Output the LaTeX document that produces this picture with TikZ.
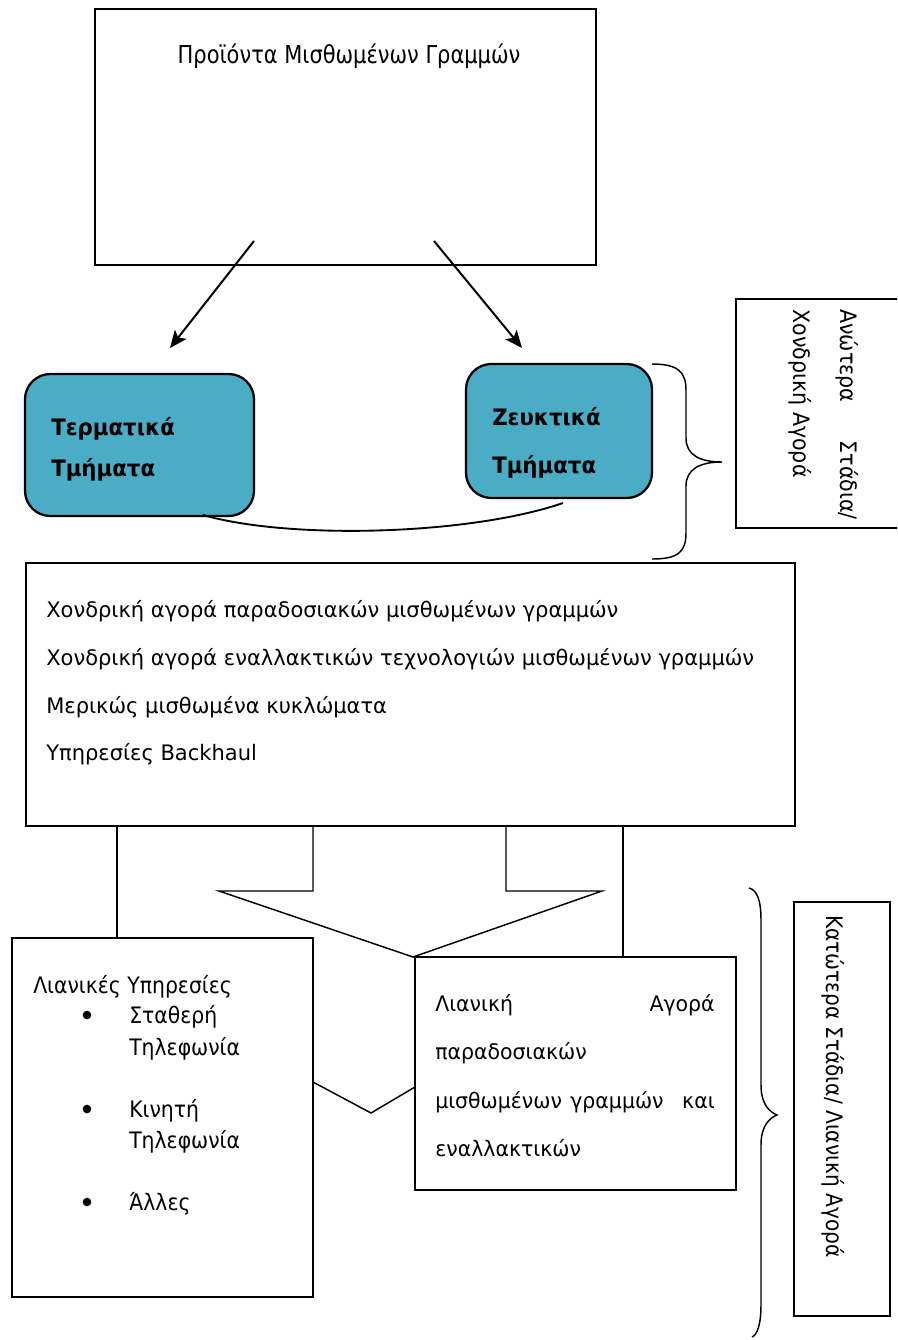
\documentclass[tikz,border=0pt]{standalone}
\usepackage{fontspec}
\setmainfont{DejaVu Sans}
\newfontfamily\ttitle{DejaVu Sans}[FakeStretch=0.85]
\newfontfamily\tleft{DejaVu Sans}[FakeStretch=0.90]
\newfontfamily\tmain{DejaVu Sans}[FakeStretch=0.985]
\newfontfamily\tret{DejaVu Sans}[FakeStretch=0.96]
\newfontfamily\tbld{DejaVu Sans}[FakeStretch=0.94]
\newfontfamily\trotu{DejaVu Sans}[FakeStretch=0.91]
\newfontfamily\trotl{DejaVu Sans}[FakeStretch=0.89]
\usetikzlibrary{fit,arrows.meta}
\definecolor{tealfill}{HTML}{4BACC6}
\tikzset{
  box/.style={draw, line width=1.1pt, inner sep=0pt},
  tealbox/.style={draw, line width=1.7pt, fill=tealfill, rounded corners=19pt, inner sep=0pt},
  conn/.style={line width=1.1pt},
  arr/.style={line width=1.5pt, -{Stealth[length=13pt,width=11pt,inset=3pt]}},
  brace/.style={line width=1.1pt},
  plain/.style={inner sep=0pt, anchor=base west},
  titletxt/.style={plain, font=\ttitle\fontsize{18.5pt}{22pt}\selectfont},
  txt/.style={plain, font=\tleft\fontsize{17pt}{20pt}\selectfont},
  ntxt/.style={plain, font=\tmain\fontsize{16pt}{20pt}\selectfont},
  rettxt/.style={plain, font=\tret\fontsize{16pt}{20pt}\selectfont},
  btxt/.style={plain, font=\tbld\bfseries\fontsize{17pt}{20pt}\selectfont},
  rtxtu/.style={plain, rotate=-90, font=\trotu\fontsize{17pt}{20pt}\selectfont},
  rtxtl/.style={plain, rotate=-90, font=\trotl\fontsize{17pt}{20pt}\selectfont},
  bullet/.style={circle, fill=black, inner sep=0pt, minimum size=6.5pt}
}
\begin{document}
\begin{tikzpicture}[x=0.75pt,y=-0.75pt]
\useasboundingbox (0,0) rectangle (897,1340);

% top box
\node[box, fit={(95,9) (596,265)}] (top) {};
\node[titletxt, anchor=base] (toptxt) at (349,63) {Προϊόντα Μισθωμένων Γραμμών};

% arrows
\coordinate (a1s) at (254,241);
\coordinate (a1e) at (170,348);
\coordinate (a2s) at (434,241);
\coordinate (a2e) at (522,348);
\draw[arr] (a1s) -- (a1e);
\draw[arr] (a2s) -- (a2e);

% teal boxes
\node[tealbox, fit={(25,374) (254,516)}] (term) {};
\node[btxt] (termt1) at (51,435) {Τερματικά};
\node[btxt] (termt2) at (51,476) {Τμήματα};
\node[tealbox, fit={(466,364) (652,498)}] (zeuk) {};
\node[btxt] (zeukt1) at (492,425) {Ζευκτικά};
\node[btxt] (zeukt2) at (492,473) {Τμήματα};

% curve between teal boxes
\coordinate (c1) at (203,515);
\coordinate (c2) at (563,503);
\draw[conn, line width=1.4pt] (c1) .. controls (290,540) and (470,535) .. (c2);

% upper brace
\coordinate (ub1) at (652,364);
\coordinate (ubt) at (722,462);
\coordinate (ub2) at (652,559);
\draw[brace] (ub1) .. controls (678,364) and (686,372) .. (686,390)
  -- (686,438) .. controls (686,455) and (700,462) .. (ubt)
  .. controls (700,462) and (686,469) .. (686,486)
  -- (686,533) .. controls (686,552) and (678,559) .. (ub2);

% upper right box (clipped at right edge)
\begin{scope}
\clip (0,0) rectangle (897,1340);
\draw[box] (910,299) -- (736,299) -- (736,528) -- (910,528);
\end{scope}
\node[rtxtu] (ur1a) at (840,309) {Ανώτερα};
\node[rtxtu, anchor=base east] (ur1b) at (840,520) {Στάδια/};
\node[rtxtu] (ur2) at (793,309) {Χονδρική Αγορά};

% main box
\node[box, fit={(26,563) (795,826)}] (main) {};
\node[ntxt] (m1) at (46,617) {Χονδρική αγορά παραδοσιακών μισθωμένων γραμμών};
\node[ntxt] (m2) at (46,665) {Χονδρική αγορά εναλλακτικών τεχνολογιών μισθωμένων γραμμών};
\node[ntxt] (m3) at (46,713) {Μερικώς μισθωμένα κυκλώματα};
\node[ntxt] (m4) at (46,760) {Υπηρεσίες Backhaul};

% lower boxes
\node[box, fit={(12,938) (313,1297)}] (retl) {};
\node[box, fit={(415,957) (736,1190)}] (retr) {};

% connectors from main box
\draw[conn] (117,826) -- (117,938);
\draw[conn] (623,826) -- (623,957);
% block arrow
\coordinate (apex) at (413,957);
\draw[conn] (313,826) -- (313,891) -- (219,891) -- (apex) -- (602,891) -- (506,891) -- (506,826);
% V connector
\coordinate (vbot) at (371,1113);
\draw[conn] (313,1082) -- (vbot) -- (415,1087);

% left lower text
\node[txt] (l0) at (33,993) {Λιανικές Υπηρεσίες};
\node[bullet] (b1) at (87,1015) {};
\node[txt] (l1) at (129,1023) {Σταθερή};
\node[txt] (l2) at (129,1055) {Τηλεφωνία};
\node[bullet] (b2) at (87,1109) {};
\node[txt] (l3) at (129,1117) {Κινητή};
\node[txt] (l4) at (129,1148) {Τηλεφωνία};
\node[bullet] (b3) at (87,1202) {};
\node[txt] (l5) at (129,1210) {Άλλες};

% right lower text
\node[rettxt] (r1a) at (435,1011) {Λιανική};
\node[rettxt, anchor=base east] (r1b) at (715,1011) {Αγορά};
\node[rettxt] (r2) at (435,1059) {παραδοσιακών};
\node[rettxt] (r3a) at (435,1108) {μισθωμένων};
\node[rettxt, anchor=base] (r3b) at (617,1108) {γραμμών};
\node[rettxt, anchor=base east] (r3c) at (715,1108) {και};
\node[rettxt] (r4) at (435,1156) {εναλλακτικών};

% lower brace
\coordinate (lb1) at (749,888);
\coordinate (lbt) at (777,1115);
\coordinate (lb2) at (752,1337);
\draw[brace] (lb1) .. controls (757,890) and (761,900) .. (761,920)
  -- (761,1085) .. controls (761,1105) and (770,1112) .. (lbt)
  .. controls (770,1118) and (761,1125) .. (761,1145)
  -- (761,1305) .. controls (761,1325) and (757,1335) .. (lb2);

% lower right box
\node[box, fit={(794,902) (890,1316)}] (lrb) {};
\node[rtxtl] (lrt) at (826,915) {Κατώτερα Στάδια/ Λιανική Αγορά};
\end{tikzpicture}
\end{document}
